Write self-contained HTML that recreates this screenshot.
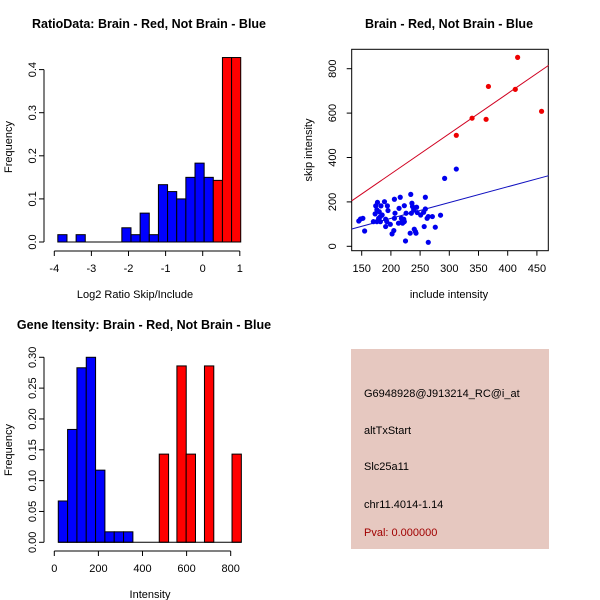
<!DOCTYPE html>
<html><head><meta charset="utf-8"><style>
body{margin:0;background:#fff}
svg{display:block;font-family:"Liberation Sans",sans-serif}
</style></head><body>
<svg id="s" width="600" height="600" viewBox="0 0 600 600">
<rect width="600" height="600" fill="#fff"/>
<g id="p1"></g>
<g id="p2"></g>
<g id="p3"></g>
<g>
<rect x="351" y="349" width="198" height="200" fill="#e6c8c0"/>
<text x="364" y="397" font-size="11" fill="#000">G6948928@J913214_RC@i_at</text>
<text x="364" y="434" font-size="11" fill="#000">altTxStart</text>
<text x="364" y="470" font-size="11" fill="#000">Slc25a11</text>
<text x="364" y="508" font-size="11" fill="#000">chr11.4014-1.14</text>
<text x="364" y="536" font-size="11" fill="#a00000">Pval: 0.000000</text>
</g>
</svg>
<script>
// Panel 1: log2 ratio histogram
const ratioStart = -3.905;
const ratioWidth = 0.2465;
const ratioFreq = [0.017,0,0.017,0,0,0,0,0.033,0.017,0.067,0.017,0.133,0.117,0.1,0.15,0.183,0.15,0.143,0.428,0.428];
const ratioIsBrain = [0,0,0,0,0,0,0,0,0,0,0,0,0,0,0,0,0,1,1,1];
const ratioXTicks = [-4,-3,-2,-1,0,1];
const ratioYTicks = [0,0.1,0.2,0.3,0.4];

// Panel 2: scatter
const brainX = [312,339,363,367,413,417,458];
const brainY = [500,577,572,720,707,851,608];
const otherX = [145,148,152,155,173,174,177,176,179,180,182,183,185,189,191,194,195,191,199,202,205,206,206,213,214,216,218,219,220,222,223,225,223,234,233,235,236,237,239,240,242,243,244,251,256,257,259,259,262,264,264,271,276,285,292,312,176,182,193,170,207,226,245];
const otherY = [114,123,126,69,146,182,198,164,126,156,134,182,141,201,122,182,161,89,99,56,71,126,212,104,171,221,126,111,104,122,183,24,111,234,59,149,194,179,164,77,66,59,176,141,153,89,221,168,126,18,134,134,86,140,306,348,111,111,111,111,149,149,152];
const brainLine = [205,815];   // y at x=133 and x=470
const otherLine = [78,318];
const lineXRange = [133,470];
const scatXTicks = [150,200,250,300,350,400,450];
const scatYTicks = [0,200,400,600,800];

// Panel 3: intensity histogram
const intWidth = 42.3;
const intLeft = [18,60.3,102.6,144.9,187.2,229.5,271.8,314.1,476,556,598,681,806];
const intFreq = [0.067,0.183,0.283,0.3,0.117,0.017,0.017,0.017,0.143,0.286,0.143,0.286,0.143];
const intIsBrain = [0,0,0,0,0,0,0,0,1,1,1,1,1];
const intXTicks = [0,200,400,600,800];
const intYTicks = [0,0.05,0.10,0.15,0.20,0.25,0.30];

const NS="http://www.w3.org/2000/svg";
function mk(parent,tag,attrs,txt){const e=document.createElementNS(NS,tag);for(const k in attrs)e.setAttribute(k,attrs[k]);if(txt!==undefined)e.textContent=txt;parent.appendChild(e);return e;}

// ---------- Panel 1 ----------
(function(){
const g=document.getElementById('p1');
const sx=v=>54.3+(v+4)*37.1, sy=v=>242-v*431;
ratioFreq.forEach((f,i)=>{
  const x0=sx(ratioStart+i*ratioWidth), x1=sx(ratioStart+(i+1)*ratioWidth);
  if(f<=0)return;
  const r=mk(g,'rect',{x:x0,y:sy(f),width:x1-x0,height:sy(0)-sy(f),fill:ratioIsBrain[i]?'#ff0000':'#0000ff',stroke:'#000','stroke-width':1});
  
  
});
const base=mk(g,'line',{x1:sx(ratioStart),x2:sx(ratioStart+ratioFreq.length*ratioWidth),y1:sy(0),y2:sy(0),stroke:'#000'});


const xa=mk(g,'line',{x1:sx(-4),x2:sx(1),y1:251,y2:251,stroke:'#000'});


ratioXTicks.forEach(t=>{
  mk(g,'line',{x1:sx(t),x2:sx(t),y1:251,y2:256,stroke:'#000'});
  const tx=mk(g,'text',{x:sx(t),y:272,'font-size':11,'text-anchor':'middle'},String(t));
  
  
});
const ya=mk(g,'line',{x1:44,x2:44,y1:sy(0),y2:sy(0.4),stroke:'#000'});


ratioYTicks.forEach(t=>{
  mk(g,'line',{x1:39,x2:44,y1:sy(t),y2:sy(t),stroke:'#000'});
  const tx=mk(g,'text',{x:36,y:sy(t),'font-size':11,'text-anchor':'middle',transform:`rotate(-90 36 ${sy(t)})`},t.toFixed(1));
  
  
});
})();

// ---------- Panel 2 ----------
(function(){
const g=document.getElementById('p2');
const sx=v=>361.7+(v-150)*0.584, sy=v=>246.3-v*0.222;
const box=mk(g,'rect',{x:351.7,y:49.3,width:196.6,height:201.4,fill:'none',stroke:'#000'});


const l1=mk(g,'line',{x1:sx(lineXRange[0]),x2:sx(lineXRange[1]),y1:sy(brainLine[0]),y2:sy(brainLine[1]),stroke:'#d00020'});


const l2=mk(g,'line',{x1:sx(lineXRange[0]),x2:sx(lineXRange[1]),y1:sy(otherLine[0]),y2:sy(otherLine[1]),stroke:'#1010c0'});


otherX.forEach((x,i)=>{
  const c=mk(g,'circle',{cx:sx(x),cy:sy(otherY[i]),r:2.6,fill:'#0000ee'});
  
  
});
brainX.forEach((x,i)=>{
  const c=mk(g,'circle',{cx:sx(x),cy:sy(brainY[i]),r:2.6,fill:'#ee0000'});
  
  
});
scatXTicks.forEach(t=>{
  mk(g,'line',{x1:sx(t),x2:sx(t),y1:250.7,y2:255.7,stroke:'#000'});
  const tx=mk(g,'text',{x:sx(t),y:272,'font-size':11,'text-anchor':'middle'},t);
  
  
});
scatYTicks.forEach(t=>{
  mk(g,'line',{x1:346.7,x2:351.7,y1:sy(t),y2:sy(t),stroke:'#000'});
  const tx=mk(g,'text',{x:336,y:sy(t),'font-size':11,'text-anchor':'middle',transform:`rotate(-90 336 ${sy(t)})`},t);
  
  
});
})();

// ---------- Panel 3 ----------
(function(){
const g=document.getElementById('p3');
const sx=v=>54.3+v*0.2205, sy=v=>542.3-v*616.7;
intFreq.forEach((f,i)=>{
  const x0=sx(intLeft[i]), x1=sx(intLeft[i]+intWidth);
  const r=mk(g,'rect',{x:x0,y:sy(f),width:x1-x0,height:sy(0)-sy(f),fill:intIsBrain[i]?'#ff0000':'#0000ff',stroke:'#000','stroke-width':1});
  
  
});
const base=mk(g,'line',{x1:sx(intLeft[0]),x2:sx(intLeft[intLeft.length-1]+intWidth),y1:sy(0),y2:sy(0),stroke:'#000'});


const xa=mk(g,'line',{x1:sx(0),x2:sx(800),y1:551,y2:551,stroke:'#000'});


intXTicks.forEach(t=>{
  mk(g,'line',{x1:sx(t),x2:sx(t),y1:551,y2:556,stroke:'#000'});
  const tx=mk(g,'text',{x:sx(t),y:572,'font-size':11,'text-anchor':'middle'},t);
  
  
});
const ya=mk(g,'line',{x1:44,x2:44,y1:sy(0),y2:sy(0.3),stroke:'#000'});


intYTicks.forEach(t=>{
  mk(g,'line',{x1:39,x2:44,y1:sy(t),y2:sy(t),stroke:'#000'});
  const tx=mk(g,'text',{x:36,y:sy(t),'font-size':11,'text-anchor':'middle',transform:`rotate(-90 36 ${sy(t)})`},t.toFixed(2));
  
  
});
})();
</script>
<svg width="600" height="600" style="position:absolute;left:0;top:0">
<g font-family="Liberation Sans, sans-serif">
<text x="149" y="28" font-size="12.5" font-weight="bold" text-anchor="middle">RatioData: Brain - Red, Not Brain - Blue</text>
<text x="135" y="298" font-size="11" text-anchor="middle">Log2 Ratio Skip/Include</text>
<text x="12" y="147" font-size="11" text-anchor="middle" transform="rotate(-90 12 147)">Frequency</text>
<text x="449" y="28" font-size="12.5" font-weight="bold" text-anchor="middle">Brain - Red, Not Brain - Blue</text>
<text x="449" y="298" font-size="11" text-anchor="middle">include intensity</text>
<text x="312" y="150" font-size="11" text-anchor="middle" transform="rotate(-90 312 150)">skip intensity</text>
<text x="144" y="329" font-size="12.5" font-weight="bold" text-anchor="middle">Gene Itensity: Brain - Red, Not Brain - Blue</text>
<text x="150" y="598" font-size="11" text-anchor="middle">Intensity</text>
<text x="12" y="450" font-size="11" text-anchor="middle" transform="rotate(-90 12 450)">Frequency</text>
</g>
</svg>
</body></html>
